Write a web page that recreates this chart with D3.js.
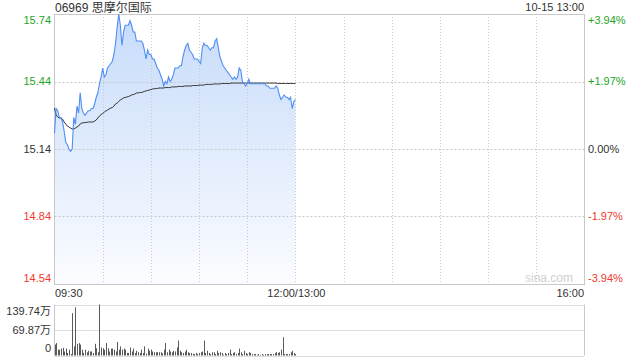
<!DOCTYPE html>
<html><head><meta charset="utf-8">
<script src="https://cdn.jsdelivr.net/npm/d3@7"></script>
<style>
html,body{margin:0;padding:0;background:#fff;}
svg{display:block;}
text{font-family:"Liberation Sans",Arial,"Noto Sans CJK SC",sans-serif;}
</style></head>
<body>
<svg id="c" width="640" height="360"></svg>
<script>
// ---- data ----
const title = "06969 思摩尔国际";
const stamp = "10-15 13:00";
const preClose = 15.14;
const priceTicks = [15.74, 15.44, 15.14, 14.84, 14.54];
const pctTicks = ["+3.94%", "+1.97%", "0.00%", "-1.97%", "-3.94%"];
const timeTicks = ["09:30", "12:00/13:00", "16:00"];
const volTicks = ["139.74万", "69.87万", "0"];
const volMax = 139.74;
// minute prices 09:30 .. 12:00
const price = [
15.21,15.32,15.31,15.28,15.28,15.26,15.22,15.17,15.16,15.14,
15.13,15.14,15.28,15.25,15.33,15.30,15.39,15.32,15.30,15.29,
15.30,15.31,15.31,15.32,15.32,15.34,15.37,15.39,15.43,15.46,
15.50,15.46,15.47,15.50,15.51,15.52,15.53,15.56,15.61,15.68,
15.74,15.69,15.60,15.66,15.69,15.69,15.69,15.71,15.69,15.66,
15.66,15.62,15.62,15.62,15.62,15.61,15.58,15.54,15.58,15.56,
15.56,15.54,15.54,15.52,15.50,15.49,15.47,15.45,15.42,15.44,
15.43,15.46,15.44,15.45,15.47,15.50,15.50,15.50,15.51,15.51,
15.55,15.58,15.60,15.61,15.58,15.57,15.56,15.54,15.54,15.54,
15.53,15.52,15.59,15.61,15.60,15.60,15.59,15.58,15.59,15.59,
15.62,15.63,15.59,15.55,15.53,15.51,15.50,15.49,15.48,15.47,
15.46,15.45,15.46,15.45,15.46,15.50,15.49,15.44,15.43,15.42,
15.43,15.45,15.43,15.43,15.43,15.43,15.43,15.43,15.43,15.43,
15.43,15.43,15.42,15.42,15.41,15.41,15.41,15.41,15.42,15.41,
15.38,15.36,15.37,15.38,15.37,15.37,15.36,15.37,15.32,15.35,
15.36];
// average price line
const avgPrice = [
15.322,15.291,15.282,15.278,15.278,15.273,15.260,15.251,15.242,15.238,
15.233,15.229,15.229,15.233,15.238,15.242,15.251,15.256,15.256,15.258,
15.258,15.260,15.260,15.260,15.260,15.264,15.269,15.278,15.287,15.293,
15.298,15.304,15.309,15.313,15.318,15.322,15.324,15.331,15.340,15.344,
15.351,15.358,15.362,15.367,15.369,15.371,15.373,15.376,15.380,15.382,
15.384,15.389,15.389,15.391,15.391,15.393,15.396,15.398,15.400,15.402,
15.404,15.407,15.407,15.409,15.409,15.411,15.411,15.411,15.411,15.413,
15.413,15.413,15.413,15.416,15.416,15.416,15.416,15.418,15.418,15.418,
15.418,15.420,15.420,15.420,15.420,15.420,15.422,15.422,15.422,15.422,
15.424,15.424,15.424,15.424,15.427,15.427,15.427,15.427,15.427,15.429,
15.429,15.429,15.429,15.429,15.431,15.431,15.431,15.431,15.431,15.431,
15.433,15.433,15.433,15.433,15.433,15.433,15.433,15.433,15.433,15.433,
15.433,15.433,15.433,15.433,15.433,15.433,15.433,15.433,15.433,15.433,
15.433,15.433,15.433,15.433,15.433,15.433,15.433,15.433,15.433,15.431,
15.431,15.431,15.431,15.431,15.431,15.431,15.431,15.431,15.431,15.431,
15.431];
// minute volume (万股)
const volume = [
30,34,16,16,19,21,11,19,7,16,4,116,25,132,32,34,30,16,7,16,9,13,11,11,7,32,20,
9,139.74,
22,20,16,34,20,11,19,19,16,11,37,
16,25,16,19,16,7,7,22,11,19,7,13,9,7,16,7,25,
5,
19,13,16,11,9,9,9,9,9,
6,
16,34,9,16,11,9,13,11,22,41,
13,9,7,11,16,9,7,7,
5,
4,7,4,7,9,11,41,
7,13,7,4,9,9,4,13,7,9,7,2,7,4,7,16,4,7,9,4,7,19,9,
4,
13,7,4,9,7,4,4,4,2,4,2,4,2,4,4,4,4,4,4,7,9,7,9,16,50,4,4,4,4,9,13,7,
4];

// ---- chart ----
const svg = d3.select("#c");
const L = 54.5, R = 584.5, T = 14, B = 284;
const VT = 304.5, VB = 355.5;
const totalMin = 330;
const x = d3.scaleLinear().domain([0, totalMin]).range([L, R]);
const y = d3.scaleLinear().domain([priceTicks[4], priceTicks[0]]).range([B, T]);
const yv = d3.scaleLinear().domain([0, volMax]).range([VB, VT]);
const green = "#1ea51e", red = "#f03a2f", dark = "#333";
const gridC = "#c9c9c9";

const defs = svg.append("defs");
const grad = defs.append("linearGradient").attr("id","fillg")
  .attr("gradientUnits","userSpaceOnUse").attr("x1",0).attr("y1",T).attr("x2",0).attr("y2",B);
grad.append("stop").attr("offset","0%").attr("stop-color","#c6dbfa");
grad.append("stop").attr("offset","100%").attr("stop-color","#fbfcff");

// area fill
const area = d3.area().x((d,i)=>x(i)).y0(B).y1(d=>y(d));
svg.append("path").datum(price).attr("d",area).attr("fill","url(#fillg)");

// grid
const hGrid = priceTicks.slice(1,4);
svg.append("g").selectAll("line").data(hGrid).join("line")
  .attr("x1",L).attr("x2",R).attr("y1",d=>Math.round(y(d))+0.5).attr("y2",d=>Math.round(y(d))+0.5)
  .attr("stroke",gridC).attr("stroke-dasharray","2,2");
const vGrid = d3.range(30, totalMin, 30);
svg.append("g").selectAll("line").data(vGrid).join("line")
  .attr("x1",d=>Math.round(x(d))+0.5).attr("x2",d=>Math.round(x(d))+0.5).attr("y1",T).attr("y2",B)
  .attr("stroke",gridC).attr("stroke-dasharray","1,2");

// border
svg.append("rect").attr("x",L).attr("y",T+0.5).attr("width",R-L).attr("height",B-T)
  .attr("fill","none").attr("stroke","#c8c8c8");

// lines
const line = d3.line().x((d,i)=>x(i)).y(d=>y(d));
svg.append("path").datum(avgPrice).attr("d",line).attr("fill","none").attr("stroke",dark).attr("stroke-width",1);
svg.append("path").datum(price).attr("d",line).attr("fill","none").attr("stroke","#4f8ef2").attr("stroke-width",1.1);

// labels left/right
const labColor = (i)=> i<2 ? green : (i===2 ? dark : red);
const labY = (d,i)=> i===0 ? y(d)+6 : (i===4 ? y(d)-6 : y(d));
svg.append("g").selectAll("text").data(priceTicks).join("text")
  .attr("x",51).attr("y",labY).attr("dy","0.35em").attr("text-anchor","end")
  .attr("font-size",11).attr("fill",(d,i)=>labColor(i)).text(d=>d.toFixed(2));
svg.append("g").selectAll("text").data(pctTicks).join("text")
  .attr("x",588).attr("y",(d,i)=>labY(priceTicks[i],i)).attr("dy","0.35em").attr("text-anchor","start")
  .attr("font-size",11).attr("fill",(d,i)=>labColor(i)).text(d=>d);

// title
svg.append("text").attr("x",55).attr("y",12).attr("font-size",12).attr("fill",dark).text(title);
svg.append("text").attr("x",584).attr("y",11).attr("font-size",11).attr("fill",dark).attr("text-anchor","end").text(stamp);
// watermark
svg.append("text").attr("x",573).attr("y",282).attr("font-size",12).attr("fill","#d0d0d0").attr("text-anchor","end").text("sina.com");

// time axis labels
const tPos = [0, 150, totalMin];
const tAnchor = ["start","middle","end"];
svg.append("g").selectAll("text").data(timeTicks).join("text")
  .attr("x",(d,i)=>x(tPos[i])+(i===0?0.5:(i===2?-0.5:1))).attr("y",297).attr("font-size",11).attr("fill",dark)
  .attr("text-anchor",(d,i)=>tAnchor[i]).text(d=>d);

// volume panel
svg.append("g").selectAll("line").data([VT, (VT+VB)/2, VB]).join("line")
  .attr("x1",L).attr("x2",R).attr("y1",d=>Math.round(d)+0.5).attr("y2",d=>Math.round(d)+0.5)
  .attr("stroke","#bdbdbd").attr("stroke-dasharray","1,1");
svg.append("line").attr("x1",L).attr("x2",L).attr("y1",VT).attr("y2",VB).attr("stroke","#c8c8c8");
svg.append("line").attr("x1",R).attr("x2",R).attr("y1",VT).attr("y2",VB).attr("stroke","#c8c8c8");
svg.append("g").selectAll("rect").data(volume).join("rect")
  .attr("x",(d,i)=>Math.round(x(i))).attr("width",1)
  .attr("y",d=>yv(d)).attr("height",d=>VB-yv(d)).attr("fill","#5a5a5a");
const vlY = [VT+7, (VT+VB)/2, VB-7];
svg.append("g").selectAll("text").data(volTicks).join("text")
  .attr("x",51).attr("y",(d,i)=>vlY[i]).attr("dy","0.35em").attr("text-anchor","end")
  .attr("font-size",11).attr("fill",dark).text(d=>d);
</script>
</body></html>
